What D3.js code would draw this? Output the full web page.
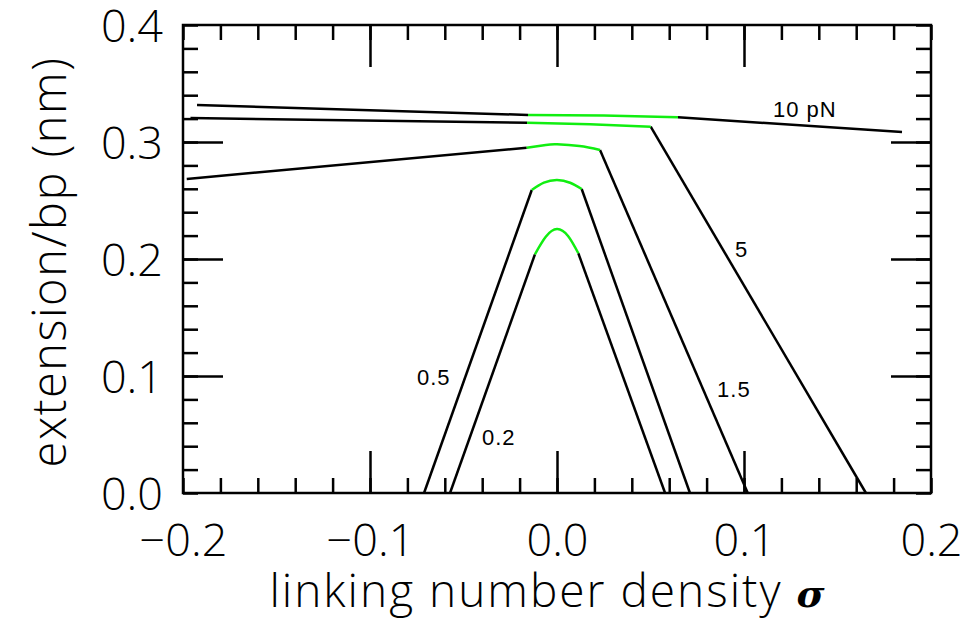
<!DOCTYPE html>
<html>
<head>
<meta charset="utf-8">
<script src="https://cdn.jsdelivr.net/npm/d3@7"></script>
<style>
  body { margin: 0; background: #fff; }
  svg { display: block; font-family: "Open Sans", sans-serif; }
</style>
</head>
<body>
<div id="chart"></div>
<script>
// force labels, one per curve (top to bottom)
var forceLabels = ["10 pN", "5", "1.5", "0.5", "0.2"];

// black branch to the left of the plectoneme-free region, [sigma, extension]
var leftArm = [
  [[-0.1925, 0.3316], [-0.0155, 0.3231]],
  [[-0.196, 0.3205], [-0.016, 0.3164]],
  [[-0.198, 0.2684], [-0.0162, 0.2951]],
  [[-0.0711, 0.0], [-0.0135, 0.2590]],
  [[-0.0572, 0.0], [-0.0118, 0.2040]]
];

// green cap (stretched, unbuckled DNA)
var greenCap = [
  [[-0.0155, 0.3231], [0.025, 0.3226], [0.0647, 0.3211]],
  [[-0.016, 0.3164], [0.0176, 0.3151], [0.0501, 0.3131]],
  [[-0.0162, 0.2951], [-0.006, 0.2975], [0.0, 0.2980], [0.012, 0.2965], [0.023, 0.2932]],
  [[-0.0135, 0.2590], [-0.007, 0.2652], [0.0, 0.2675], [0.007, 0.2652], [0.0132, 0.2598]],
  [[-0.0118, 0.2040], [-0.006, 0.2190], [0.0, 0.2256], [0.006, 0.2195], [0.0114, 0.2049]]
];

// black branch to the right
var rightArm = [
  [[0.0647, 0.3211], [0.1845, 0.3085]],
  [[0.0501, 0.3131], [0.1652, 0.0]],
  [[0.023, 0.2932], [0.102, 0.0]],
  [[0.0132, 0.2598], [0.0711, 0.0]],
  [[0.0114, 0.2049], [0.0578, 0.0]]
];

// where each force label sits, [sigma, extension] of its baseline start
var labelAt = [[0.1155, 0.3214], [0.0952, 0.2017], [0.0856, 0.0821], [-0.0749, 0.0923], [-0.0401, 0.041]];

var xMajor = [-0.2, -0.1, 0.0, 0.1, 0.2];
var yMajor = [0.0, 0.1, 0.2, 0.3, 0.4];
var xMinor = d3.range(-10, 11).map(function (i) { return i * 0.02; });
var yMinor = d3.range(0, 21).map(function (i) { return i * 0.02; });

var W = 971, H = 621;
var L = 183, T = 25, R = 931, B = 493;

var x = d3.scaleLinear().domain([-0.2, 0.2]).range([L, R]);
var y = d3.scaleLinear().domain([0, 0.4]).range([B, T]);

var svg = d3.select("#chart").append("svg")
    .attr("width", W)
    .attr("height", H);

svg.append("rect").attr("width", W).attr("height", H).attr("fill", "#fff");

var fmt = d3.format(".1f");
var inner = [-0.1, 0.0, 0.1];
var innerY = [0.1, 0.2, 0.3];

function tickAxis(axis, tr) {
  var g = svg.append("g").attr("transform", tr).call(axis);
  g.select(".domain").remove();
  g.selectAll("line").attr("stroke", "#000").attr("stroke-width", 2.5);
  return g;
}

// minor + major ticks on all four sides, pointing inward
tickAxis(d3.axisBottom(x).tickValues(xMinor).tickSize(-15).tickFormat(""), "translate(0," + B + ")");
tickAxis(d3.axisBottom(x).tickValues(inner).tickSize(-42).tickFormat(""), "translate(0," + B + ")");
tickAxis(d3.axisTop(x).tickValues(xMinor).tickSize(-15).tickFormat(""), "translate(0," + T + ")");
tickAxis(d3.axisTop(x).tickValues(inner).tickSize(-42).tickFormat(""), "translate(0," + T + ")");
tickAxis(d3.axisLeft(y).tickValues(yMinor).tickSize(-15).tickFormat(""), "translate(" + L + ",0)");
tickAxis(d3.axisLeft(y).tickValues(innerY).tickSize(-40).tickFormat(""), "translate(" + L + ",0)");
tickAxis(d3.axisRight(y).tickValues(yMinor).tickSize(-15).tickFormat(""), "translate(" + R + ",0)");
tickAxis(d3.axisRight(y).tickValues(innerY).tickSize(-40).tickFormat(""), "translate(" + R + ",0)");

// tick labels
var xl = svg.append("g").attr("transform", "translate(0," + B + ")")
    .call(d3.axisBottom(x).tickValues(xMajor).tickSize(0).tickPadding(31).tickFormat(fmt));
xl.select(".domain").remove();
xl.selectAll("text").attr("font-size", 45).attr("font-family", "Open Sans").attr("font-weight", 300).attr("fill", "#000");

var yl = svg.append("g").attr("transform", "translate(" + L + ",0)")
    .call(d3.axisLeft(y).tickValues(yMajor).tickSize(0).tickPadding(20).tickFormat(fmt));
yl.select(".domain").remove();
yl.selectAll("text").attr("font-size", 45).attr("font-family", "Open Sans").attr("font-weight", 300).attr("fill", "#000")
    .attr("dy", "0.36em");

// frame
svg.append("rect")
    .attr("x", L).attr("y", T)
    .attr("width", R - L).attr("height", B - T)
    .attr("fill", "none").attr("stroke", "#000").attr("stroke-width", 2.5);

// curves
var straight = d3.line()
    .x(function (d) { return x(d[0]); })
    .y(function (d) { return y(d[1]); });
var smooth = d3.line()
    .x(function (d) { return x(d[0]); })
    .y(function (d) { return y(d[1]); })
    .curve(d3.curveNatural);

var curves = svg.append("g").attr("fill", "none").attr("stroke-width", 2.5);
curves.selectAll(".left").data(leftArm).enter().append("path")
    .attr("d", straight).attr("stroke", "#000");
curves.selectAll(".right").data(rightArm).enter().append("path")
    .attr("d", straight).attr("stroke", "#000");
curves.selectAll(".cap").data(greenCap).enter().append("path")
    .attr("d", smooth).attr("stroke", "#11ee11");

// force labels
svg.selectAll(".flab").data(forceLabels).enter().append("text")
    .attr("x", function (d, i) { return x(labelAt[i][0]); })
    .attr("y", function (d, i) { return y(labelAt[i][1]); })
    .attr("font-family", "Liberation Sans")
    .attr("font-size", 22)
    .attr("letter-spacing", 1)
    .attr("fill", "#000")
    .text(function (d) { return d; });

// axis titles
var xt = svg.append("text")
    .attr("x", 548).attr("y", 607)
    .attr("text-anchor", "middle")
    .attr("font-size", 46).attr("font-weight", 300)
    .attr("letter-spacing", 2);
xt.append("tspan").text("linking number density ");
xt.append("tspan").attr("font-size", 38).attr("font-weight", 700).attr("font-style", "italic")
    .attr("font-family", "DejaVu Serif").text("σ");

svg.append("text")
    .attr("transform", "translate(66,262) rotate(-90)")
    .attr("text-anchor", "middle")
    .attr("font-size", 47).attr("font-weight", 300)
    .attr("letter-spacing", 1.5)
    .text("extension/bp (nm)");
</script>
</body>
</html>
